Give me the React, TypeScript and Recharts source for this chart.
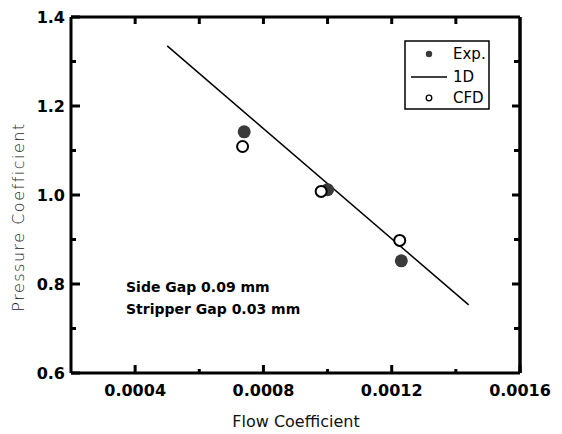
import React from 'react';
import { ComposedChart, Scatter, XAxis, YAxis, ReferenceLine } from 'recharts';

// flow coefficient / pressure coefficient
const flowExp = [0.00074, 0.001, 0.00123];
const pressExp = [1.142, 1.012, 0.852];
const flowCfd = [0.000735, 0.00098, 0.001225];
const pressCfd = [1.109, 1.008, 0.898];
const flow1D = [0.0005, 0.00144];
const press1D = [1.335, 0.753];

const xMajor = [0.0004, 0.0008, 0.0012, 0.0016];
const xMinor = [0.0006, 0.001, 0.0014];
const yMajor = [0.6, 0.8, 1.0, 1.2, 1.4];
const yMinor = [0.7, 0.9, 1.1, 1.3];

const noteLines = ['Side Gap 0.09 mm', 'Stripper Gap 0.03 mm'];

// one pixel in data units (449 x 356 px plot), for the inward ticks on top / right
const pxX = 0.0014 / 449;
const pxY = 0.8 / 356;

const toPoints = (xs: number[], ys: number[]) => xs.map((x, i) => ({ x, y: ys[i] }));

const expData = toPoints(flowExp, pressExp);
const cfdData = toPoints(flowCfd, pressCfd);
const oneDData = toPoints(flow1D, press1D);

const xTicks = [...xMajor, ...xMinor].sort((a, b) => a - b);
const yTicks = [...yMajor, ...yMinor].sort((a, b) => a - b);
const topTicks = xTicks.filter((t) => t < 0.0016);
const rightTicks = yTicks.filter((t) => t > 0.6 && t < 1.4);

const BottomTick = (props: any) => {
  const { x, y, payload } = props;
  const major = xMajor.includes(payload.value);
  return (
    <g>
      <line x1={x} x2={x} y1={y} y2={y - (major ? 8 : 4)} stroke="#000" strokeWidth={3} />
      {major && (
        <text x={x} y={y + 23} textAnchor="middle" fontFamily="DejaVu Sans" fontWeight={700} fontSize={16} fill="#000">
          {payload.value.toFixed(4)}
        </text>
      )}
    </g>
  );
};

const LeftTick = (props: any) => {
  const { x, y, payload } = props;
  const major = yMajor.includes(payload.value);
  return (
    <g>
      <line x1={x} x2={x + (major ? 9 : 5)} y1={y} y2={y} stroke="#000" strokeWidth={3} />
      {major && (
        <text x={x - 6} y={y + 6} textAnchor="end" fontFamily="DejaVu Sans" fontWeight={700} fontSize={16} fill="#000">
          {payload.value.toFixed(1)}
        </text>
      )}
    </g>
  );
};

const FilledDot = (props: any) => <circle cx={props.cx} cy={props.cy} r={6.5} fill="#3a3a3a" />;
const OpenDot = (props: any) => (
  <circle cx={props.cx} cy={props.cy} r={5.5} fill="#fff" stroke="#000" strokeWidth={2} />
);
const NoDot = () => <g />;

export default function App() {
  return (
    <div style={{ width: 554, height: 426 }}>
      <ComposedChart width={554} height={426} margin={{ top: 9, right: 42, bottom: 0, left: 0 }}>
        <XAxis
          xAxisId="b"
          dataKey="x"
          type="number"
          domain={[0.0002, 0.0016]}
          allowDataOverflow
          ticks={xTicks}
          interval={0}
          height={61}
          tickSize={0}
          tickMargin={0}
          tickLine={false}
          axisLine={{ stroke: '#000', strokeWidth: 3 }}
          tick={<BottomTick />}
        />
        <YAxis
          yAxisId="l"
          dataKey="y"
          type="number"
          domain={[0.6, 1.4]}
          allowDataOverflow
          ticks={yTicks}
          interval={0}
          width={63}
          tickSize={0}
          tickMargin={0}
          tickLine={false}
          axisLine={{ stroke: '#000', strokeWidth: 3 }}
          tick={<LeftTick />}
        />

        {/* top and right frame with inward ticks */}
        <ReferenceLine xAxisId="b" yAxisId="l" y={1.4} stroke="#000" strokeWidth={3} />
        <ReferenceLine xAxisId="b" yAxisId="l" x={0.0016} stroke="#000" strokeWidth={3.5} />
        {topTicks.map((t) => (
          <ReferenceLine
            key={`top-${t}`}
            xAxisId="b"
            yAxisId="l"
            segment={[{ x: t, y: 1.4 }, { x: t, y: 1.4 - 7 * pxY }]}
            stroke="#000"
            strokeWidth={3}
          />
        ))}
        {rightTicks.map((t) => (
          <ReferenceLine
            key={`right-${t}`}
            xAxisId="b"
            yAxisId="l"
            segment={[{ x: 0.0016, y: t }, { x: 0.0016 - (yMajor.includes(t) ? 8 : 6) * pxX, y: t }]}
            stroke="#000"
            strokeWidth={3}
          />
        ))}

        <Scatter
          data={oneDData}
          xAxisId="b"
          yAxisId="l"
          line={{ stroke: '#000', strokeWidth: 1.5 }}
          shape={<NoDot />}
          isAnimationActive={false}
        />
        <Scatter data={expData} xAxisId="b" yAxisId="l" shape={<FilledDot />} isAnimationActive={false} />
        <Scatter data={cfdData} xAxisId="b" yAxisId="l" shape={<OpenDot />} isAnimationActive={false} />

        {/* legend box */}
        <g>
          <rect x={397} y={33} width={84} height={68} fill="#fff" stroke="#000" strokeWidth={1.5} />
          <circle cx={421} cy={46} r={3.2} fill="#3a3a3a" />
          <line x1={403} x2={439} y1={69} y2={69} stroke="#000" strokeWidth={1.5} />
          <circle cx={421} cy={90} r={2.8} fill="#fff" stroke="#000" strokeWidth={1.3} />
          <g fontFamily="DejaVu Sans" fontSize={15} fill="#000">
            <text x={445} y={51}>Exp.</text>
            <text x={445} y={74}>1D</text>
            <text x={445} y={95}>CFD</text>
          </g>
        </g>

        <g fontFamily="DejaVu Sans" fontWeight={700} fontSize={14} fill="#000">
          <text x={118} y={284}>{noteLines[0]}</text>
          <text x={118} y={305.5}>{noteLines[1]}</text>
        </g>

        <text x={288} y={419} textAnchor="middle" fontFamily="DejaVu Sans" fontSize={16} fill="#111">
          Flow Coefficient
        </text>
        <text
          x={16}
          y={209}
          textAnchor="middle"
          fontFamily="DejaVu Sans"
          fontWeight={300}
          fontSize={16}
          letterSpacing={1.5}
          fill="#222"
          transform="rotate(-90 16 209)"
        >
          Pressure Coefficient
        </text>
      </ComposedChart>
    </div>
  );
}
